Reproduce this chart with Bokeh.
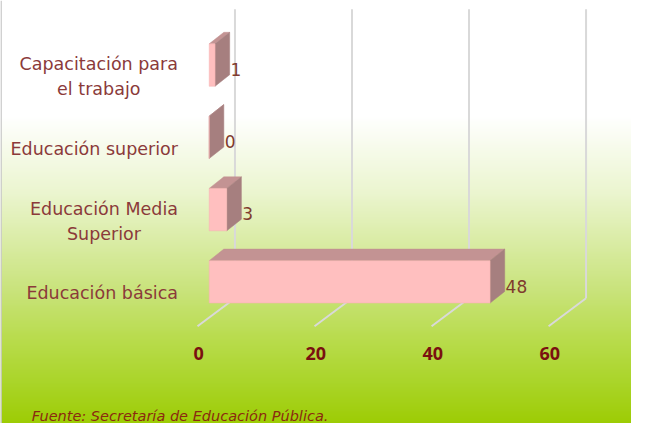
import numpy as np
from bokeh.plotting import figure
from bokeh.models import Range1d, ColumnDataSource
from bokeh.core.properties import value
from bokeh.embed import file_html
from bokeh.resources import INLINE

# ---- data ----
categories = ["Educación básica", "Educación Media\nSuperior", "Educación superior",
              "Capacitación para\nel trabajo"]
values = [48, 3, 0, 1]
tick_values = [0, 20, 40, 60]
tick_labels = ["0", "20", "40", "60"]
source_note = "Fuente: Secretaría de Educación Pública."

# ---- layout constants (reference pixels -> data units) ----
W, H = 631, 423
REF_W, REF_H = 647, 439
PX = 6.0    # ref px per value unit
PY = 75.0   # ref px per category step
X0 = (0 - 214) / PX
X1 = (REF_W - 214) / PX
Y1 = (292 - 0) / PY
Y0 = (292 - REF_H) / PY

DX, DY = 15 / PX, 12 / PY          # bar depth
HH = 22 / PY                       # half bar height
FLOOR_FRONT_DX, FLOOR_FRONT_Y = -2.0, (292 - 338) / PY
WALL_DX, WALL_Y = 4.4, (292 - 309) / PY
WALL_TOP = (292 - 9) / PY

p = figure(width=W, height=H, output_backend="svg", toolbar_location=None,
           x_range=Range1d(X0, X1), y_range=Range1d(Y0, Y1),
           x_axis_type=None, y_axis_type=None, min_border=0)
p.outline_line_color = None
p.background_fill_color = "white"
p.border_fill_color = "white"

# ---- gradient background ----
stops_y = [0, 120, 200, 300, 350, 400, 439]
stops_c = ["#ffffff", "#ffffff", "#ebf5cf", "#c9e37c", "#b9dc4e", "#a9d426", "#9dcc04"]
def hx(c):
    return [int(c[i:i + 2], 16) for i in (1, 3, 5)]
rgb = np.array([hx(c) for c in stops_c], dtype=float)
rows = REF_H
img = np.zeros((rows, 1), dtype=np.uint32)
view = img.view(dtype=np.uint8).reshape((rows, 1, 4))
for r in range(rows):
    sy = REF_H - r - 0.5
    for k in range(3):
        view[r, 0, k] = int(round(np.interp(sy, stops_y, rgb[:, k])))
    view[r, 0, 3] = 255
p.image_rgba(image=[img], x=X0, y=Y0, dw=X1 - X0, dh=Y1 - Y0)

# left border line
p.line([X0 + 0.1, X0 + 0.1], [Y0, Y1], line_color="#c8c8c8", line_width=1.5)

# ---- grid (3D wall + floor) ----
grid_col = "#d9d9d9"
for tv in tick_values:
    p.line([tv + FLOOR_FRONT_DX, tv + WALL_DX], [FLOOR_FRONT_Y, WALL_Y],
           line_color=grid_col, line_width=2)
    p.line([tv + WALL_DX, tv + WALL_DX], [WALL_Y, WALL_TOP],
           line_color=grid_col, line_width=2)

# ---- bars ----
ys = list(range(len(categories)))
front = ColumnDataSource(dict(left=[0] * len(values), right=values,
                              bottom=[y - HH for y in ys], top=[y + HH for y in ys]))
top_xs, top_ys, side_xs, side_ys = [], [], [], []
for y, v in zip(ys, values):
    t, b = y + HH, y - HH
    top_xs.append([0, v, v + DX, DX]); top_ys.append([t, t, t + DY, t + DY])
    side_xs.append([v, v + DX, v + DX, v]); side_ys.append([b, b + DY, t + DY, t])
p.patches(top_xs, top_ys, fill_color="#c39393", line_color="#c39393", line_width=0.5)
p.patches(side_xs, side_ys, fill_color="#a67f7f", line_color="#a67f7f", line_width=0.5)
p.quad(left="left", right="right", bottom="bottom", top="top", source=front,
       fill_color="#ffbfbf", line_color="#f4b0b0", line_width=0.5)

# ---- value labels ----
p.text(x=[v + DX + 0.15 for v in values], y=[y - 0.06 for y in ys],
       text=[str(v) for v in values], text_align="left", text_baseline="middle",
       text_font=value("DejaVu Sans"), text_font_size="17px", text_color="#7f3b2e")

# ---- category labels ----
p.text(x=[(182 - 214) / PX] * len(categories), y=[y - 0.16 for y in ys], text=categories,
       anchor="center_right", text_align="center", text_baseline="middle",
       text_font=value("DejaVu Sans"), text_font_size="17.5px", text_color="#8b3a3a",
       text_line_height=1.25)

# ---- tick labels ----
p.text(x=[tv - 1.8 for tv in tick_values], y=[(292 - 366) / PY] * len(tick_values),
       text=tick_labels, text_align="center", text_baseline="middle",
       text_font=value("Open Sans"), text_font_size="18px", text_font_style="bold",
       text_color="#7a1010")

# ---- source note ----
p.text(x=[(32 - 214) / PX], y=[(292 - 431) / PY], text=[source_note],
       text_align="left", text_baseline="alphabetic",
       text_font=value("DejaVu Sans"), text_font_size="14.5px", text_font_style="italic",
       text_color="#8b2a10")

open("out.html", "w").write(file_html(p, INLINE))
